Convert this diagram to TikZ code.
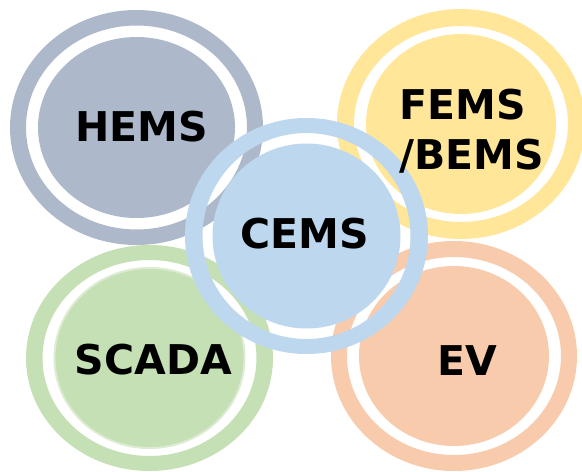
\documentclass[tikz,border=0pt]{standalone}
\usepackage{fontspec}
\setmainfont{DejaVu Sans}
\usepackage{tikz}

\definecolor{hemsgray}{HTML}{ADB9CA}
\definecolor{femsyellow}{HTML}{FFE699}
\definecolor{scadagreen}{HTML}{C5E0B4}
\definecolor{scadaedge}{HTML}{DCEBD2}
\definecolor{evorange}{HTML}{F8CBAD}
\definecolor{cemsblue}{HTML}{BDD7EE}

\begin{document}
\begin{tikzpicture}[
    x=1pt, y=-1pt,
    ring/.style={even odd rule},
    tag/.style={font=\fontsize{41}{50}\selectfont\bfseries, text=black, inner sep=0pt}
]
\clip (0,0) rectangle (582,472);
\fill[white] (0,0) rectangle (582,472);

% outer rings: the gap between ring and disk is left open
\fill[hemsgray, ring] (136.5,127.5) ellipse [x radius=126.5, y radius=117.5]
                      (136.5,127.5) ellipse [x radius=110.5, y radius=102];
\fill[hemsgray] (136.5,127.5) ellipse [x radius=98.5, y radius=90.5];

\fill[femsyellow, ring] (461,124) ellipse [x radius=124, y radius=115]
                        (461,124) ellipse [x radius=107, y radius=98];
\fill[femsyellow] (461,124) ellipse [x radius=95, y radius=90];

\fill[scadagreen, ring] (149.5,358) ellipse [x radius=123.5, y radius=113]
                        (149.5,358) ellipse [x radius=107, y radius=98];
\fill[scadagreen, draw=scadaedge, line width=2pt] (149.5,358) ellipse [x radius=95, y radius=90];

\fill[evorange, ring] (454,356) ellipse [x radius=123, y radius=115]
                      (454,356) ellipse [x radius=107, y radius=99];
\fill[evorange] (454,356) ellipse [x radius=95, y radius=90];

% centre circle on top
\fill[cemsblue, ring] (306.5,236) ellipse [x radius=121.5, y radius=118]
                      (306.5,236) ellipse [x radius=104, y radius=103];
\fill[cemsblue] (306.5,236) ellipse [x radius=94, y radius=92.5];

\node[tag] (hems) at (141.5,127) {HEMS};
\node[tag, align=left] (fems) at (472,131.5) {FEMS\\/BEMS};
\node[tag] (cems) at (304.5,233.5) {CEMS};
\node[tag] (scada) at (153.5,359.5) {SCADA};
\node[tag] (ev) at (467,360.5) {EV};

\end{tikzpicture}
\end{document}
